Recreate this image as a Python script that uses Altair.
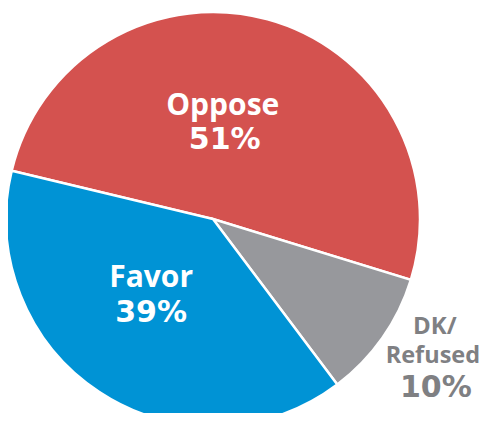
import math
import altair as alt
import pandas as pd

categories = ["Oppose", "DK/Refused", "Favor"]
values = [51, 10, 39]
name_lines = ["Oppose", "DK/", "Favor"]
second_lines = ["", "Refused", ""]
pct_labels = ["51%", "10%", "39%"]
colors = ["#D4524F", "#97989C", "#0093D5"]

df = pd.DataFrame({
    "category": categories,
    "value": values,
    "order": list(range(len(categories))),
    "name": name_lines,
    "name2": second_lines,
    "pct": pct_labels,
})

start = math.radians(283.5)
theta_scale = alt.Scale(domain=[0, 100], range=[start, start + 2 * math.pi])
color_scale = alt.Scale(domain=categories, range=colors)

CX, CY = 205, 211  # pie centre inside the view
R = 207

base = alt.Chart(df)

arcs = base.mark_arc(radius=R, stroke="white", strokeWidth=2.5).encode(
    theta=alt.Theta("value:Q", stack=True, scale=theta_scale),
    color=alt.Color("category:N", scale=color_scale, legend=None),
    order=alt.Order("order:Q"),
    x=alt.value(CX),
    y=alt.value(CY),
)

labels_base = base.transform_window(
    cum="sum(value)", sort=[alt.SortField("order")]
).transform_calculate(mid="datum.cum - datum.value / 2")


def label(cat, field, radius, dx, dy, size, color, font="Open Sans"):
    return labels_base.transform_filter(alt.datum.category == cat).mark_text(
        radius=radius, dx=dx, dy=dy, fontSize=size, fontWeight="bold",
        font=font, color=color, align="center", baseline="alphabetic",
    ).encode(
        theta=alt.Theta("mid:Q", scale=theta_scale),
        text=alt.Text(f"{field}:N"),
        x=alt.value(CX),
        y=alt.value(CY),
    )


gray_txt = "#7F8083"
pct_font = "DejaVu Sans"
layers = [
    arcs,
    label("Oppose", "name", 90, -14, -17, 30, "white"),
    label("Oppose", "pct", 90, -12, 17, 30, "white", pct_font),
    label("Favor", "name", 100, -7, -16, 30, "white"),
    label("Favor", "pct", 100, -7, 19, 30, "white", pct_font),
    label("DK/Refused", "name", 270, 1, -40, 24, gray_txt),
    label("DK/Refused", "name2", 270, -1, -11, 23.5, gray_txt),
    label("DK/Refused", "pct", 270, 2, 23, 30, gray_txt, pct_font),
]

chart = alt.layer(*layers).properties(
    width=474, height=405, padding=0,
    autosize=alt.AutoSizeParams(type="none"),
).configure_view(stroke=None)

chart.save("out.html", embed_options={"renderer": "svg", "actions": False})
